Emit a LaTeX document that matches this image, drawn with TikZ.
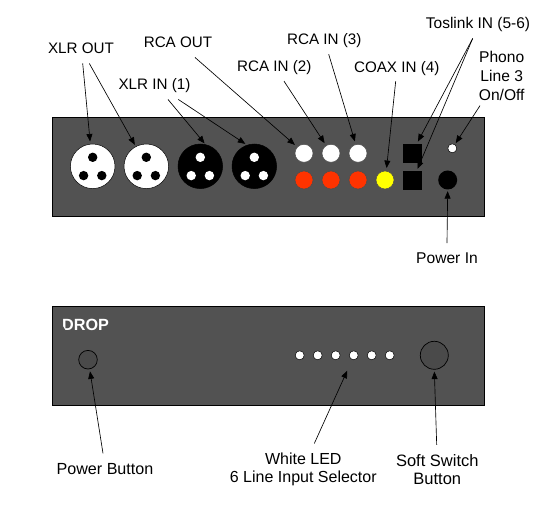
\documentclass[tikz,border=0pt]{standalone}
\usepackage{fontspec}
\setmainfont{Liberation Sans}
\usepackage{xcolor}
\usetikzlibrary{arrows.meta,positioning,calc}

\definecolor{panelgray}{HTML}{525252}
\definecolor{jackred}{HTML}{FF3300}
\definecolor{jackyellow}{HTML}{FFFF00}

\tikzset{
    panel/.style={draw=black, line width=0.9pt, fill=panelgray, minimum width=432pt, minimum height=99pt, inner sep=0pt},
    xlrjack/.style={circle, draw=black, line width=0.5pt, minimum size=44.6pt, inner sep=0pt},
    xlrpin/.style={circle, minimum size=9.4pt, inner sep=0pt},
    rcajack/.style={circle, draw=black!70, line width=0.5pt, minimum size=18pt, inner sep=0pt},
    optical/.style={fill=black, minimum size=18.7pt, inner sep=0pt},
    ledlamp/.style={circle, fill=white, draw=black, line width=0.5pt, minimum size=9pt, inner sep=0pt},
    pushbtn/.style={circle, draw=black, line width=0.7pt, fill=panelgray!90!black, inner sep=0pt},
    captionblock/.style={font=\fontsize{#1}{18.7}\selectfont, text=black, inner sep=0pt, align=center},
    captionblock/.default=16,
    caption/.style={font=\fontsize{#1}{18.7}\selectfont, text=black, inner sep=0pt, text height=10.9pt, text depth=0pt},
    caption/.default=15.2,
    callout/.style={-{Triangle[length=7.5pt,width=6pt]}, line width=0.65pt, black},
}

\begin{document}
\begin{tikzpicture}[x=1pt, y=-1pt]
    \useasboundingbox (0,0) rectangle (539,505);

    % Panels
    \node[panel] (rearPanel) at (268.4,167) {};
    \node[panel] (frontPanel) at (268.4,355.8) {};

    % XLR jacks
    \foreach \name/\x/\body/\hole in {xlrOutA/92.7/white/black, xlrOutB/146.3/white/black, xlrInA/200.3/black/white, xlrInB/254.3/black/white} {
        \node[xlrjack, fill=\body] (\name) at (\x,166.3) {};
        \node[xlrpin, fill=\hole] (\name Top) at ([shift={(0,-9)}]\name.center) {};
        \node[xlrpin, fill=\hole] (\name Left) at ([shift={(-9.1,9.3)}]\name.center) {};
        \node[xlrpin, fill=\hole] (\name Right) at ([shift={(9.1,9.3)}]\name.center) {};
    }

    % RCA jacks
    \node[rcajack, fill=white] (rcaOut) at (304,153.3) {};
    \node[rcajack, fill=white] (rcaInB) at (331,153.3) {};
    \node[rcajack, fill=white] (rcaInC) at (358,153.3) {};
    \node[rcajack, fill=jackred] (rcaRedA) at (304,180) {};
    \node[rcajack, fill=jackred] (rcaRedB) at (331,180) {};
    \node[rcajack, fill=jackred] (rcaRedC) at (358,180) {};
    \node[rcajack, fill=jackyellow] (coaxIn) at (385,180) {};

    % Toslink, phono switch, power
    \node[optical] (toslinkA) at (412.5,153.3) {};
    \node[optical] (toslinkB) at (412.5,180.3) {};
    \node[ledlamp] (phonoSw) at (452.3,148.3) {};
    \node[circle, fill=black, minimum size=19pt, inner sep=0pt] (powerIn) at (447.7,180) {};

    % Front panel
    \node[font=\fontsize{16.2}{16.2}\selectfont\bfseries, text=white, inner sep=0pt, anchor=base west] (dropLogo) at (62,331) {DROP};
    \fill[panelgray] (60,321.5) -- (66.3,331.5) -- (60,332) -- cycle;
    \node[pushbtn, minimum size=18.6pt] (powerBtn) at (88,359.7) {};
    \node[pushbtn, minimum size=28pt] (softBtn) at (434.3,355.3) {};
    \foreach \name/\x in {ledA/299.7, ledB/317.7, ledC/335.7, ledD/353.7, ledE/371.7, ledF/389.7} {
        \node[ledlamp] (\name) at (\x,355.3) {};
    }

    % Captions
    \node[caption] (capXlrOut) at (81,48.3) {XLR OUT};
    \node[caption] (capRcaOut) at (178,42.3) {RCA OUT};
    \node[caption] (capXlrIn) at (154.5,84.3) {XLR IN (1)};
    \node[caption] (capRcaB) at (274.3,66) {RCA IN (2)};
    \node[caption] (capRcaC) at (324.3,39.3) {RCA IN (3)};
    \node[caption] (capCoax) at (396.7,66.7) {COAX IN (4)};
    \node[caption=15.5] (capToslink) at (478,23.3) {Toslink IN (5-6)};
    \node[captionblock=15.6] (capPhono) at (501.7,76) {Phono\\Line 3\\On/Off};
    \node[caption=15.6] (capPower) at (447,258.3) {Power In};
    \node[caption=16.1] (capBtn) at (105,469) {Power Button};
    \node[captionblock] (capLed) at (303.3,469.5) {White LED\\6 Line Input Selector};
    \node[captionblock=16.5] (capSoft) at (437.3,469.5) {Soft Switch\\Button};

    % Rear callouts
    \draw[callout, shorten >=2.4pt] ([shift={(1.7,9.5)}]capXlrOut.south) -- (xlrOutA.96);
    \draw[callout, shorten >=1.8pt] ([shift={(8.3,9.5)}]capXlrOut.south) -- (xlrOutB.118);
    \draw[callout, shorten >=1.2pt] ([shift={(13.5,9.5)}]capXlrIn.south) -- (xlrInA.77);
    \draw[callout, shorten >=2pt] ([shift={(23.8,9.5)}]capXlrIn.south) -- (xlrInB.109);
    \draw[callout, shorten >=3.2pt] ([shift={(17,9.5)}]capRcaOut.south) -- (rcaOut.137);
    \draw[callout, shorten >=2.8pt] ([shift={(9.7,9.5)}]capRcaB.south) -- (rcaInB.122);
    \draw[callout, shorten >=3pt] ([shift={(4.4,9.3)}]capRcaC.south) -- (rcaInC.104);
    \draw[callout, shorten >=2.8pt] ([shift={(-1,8.9)}]capCoax.south) -- (coaxIn.82);
    \draw[callout, shorten >=2.5pt] ([shift={(-5.3,9.5)}]capToslink.south) -- (toslinkA.66);
    \draw[callout, shorten >=2pt] ([shift={(-5.3,9.5)}]capToslink.south) -- (toslinkB.66);
    \draw[callout, shorten >=1.5pt] ([shift={(-21.7,5)}]capPhono.south) -- (phonoSw.56);
    \draw[callout, shorten >=1.5pt] ([shift={(0,-9.5)}]capPower.north) -- (powerIn.south);

    % Front callouts
    \draw[callout, shorten >=2.2pt] ([shift={(-2,-10)}]capBtn.north) -- (powerBtn.-80);
    \draw[callout, shorten >=12pt] ([shift={(11,-9)}]capLed.north) -- (ledD.-109);
    \draw[callout, shorten >=2pt] ([shift={(-0.6,-9)}]capSoft.north) -- (softBtn.south);

\end{tikzpicture}
\end{document}
